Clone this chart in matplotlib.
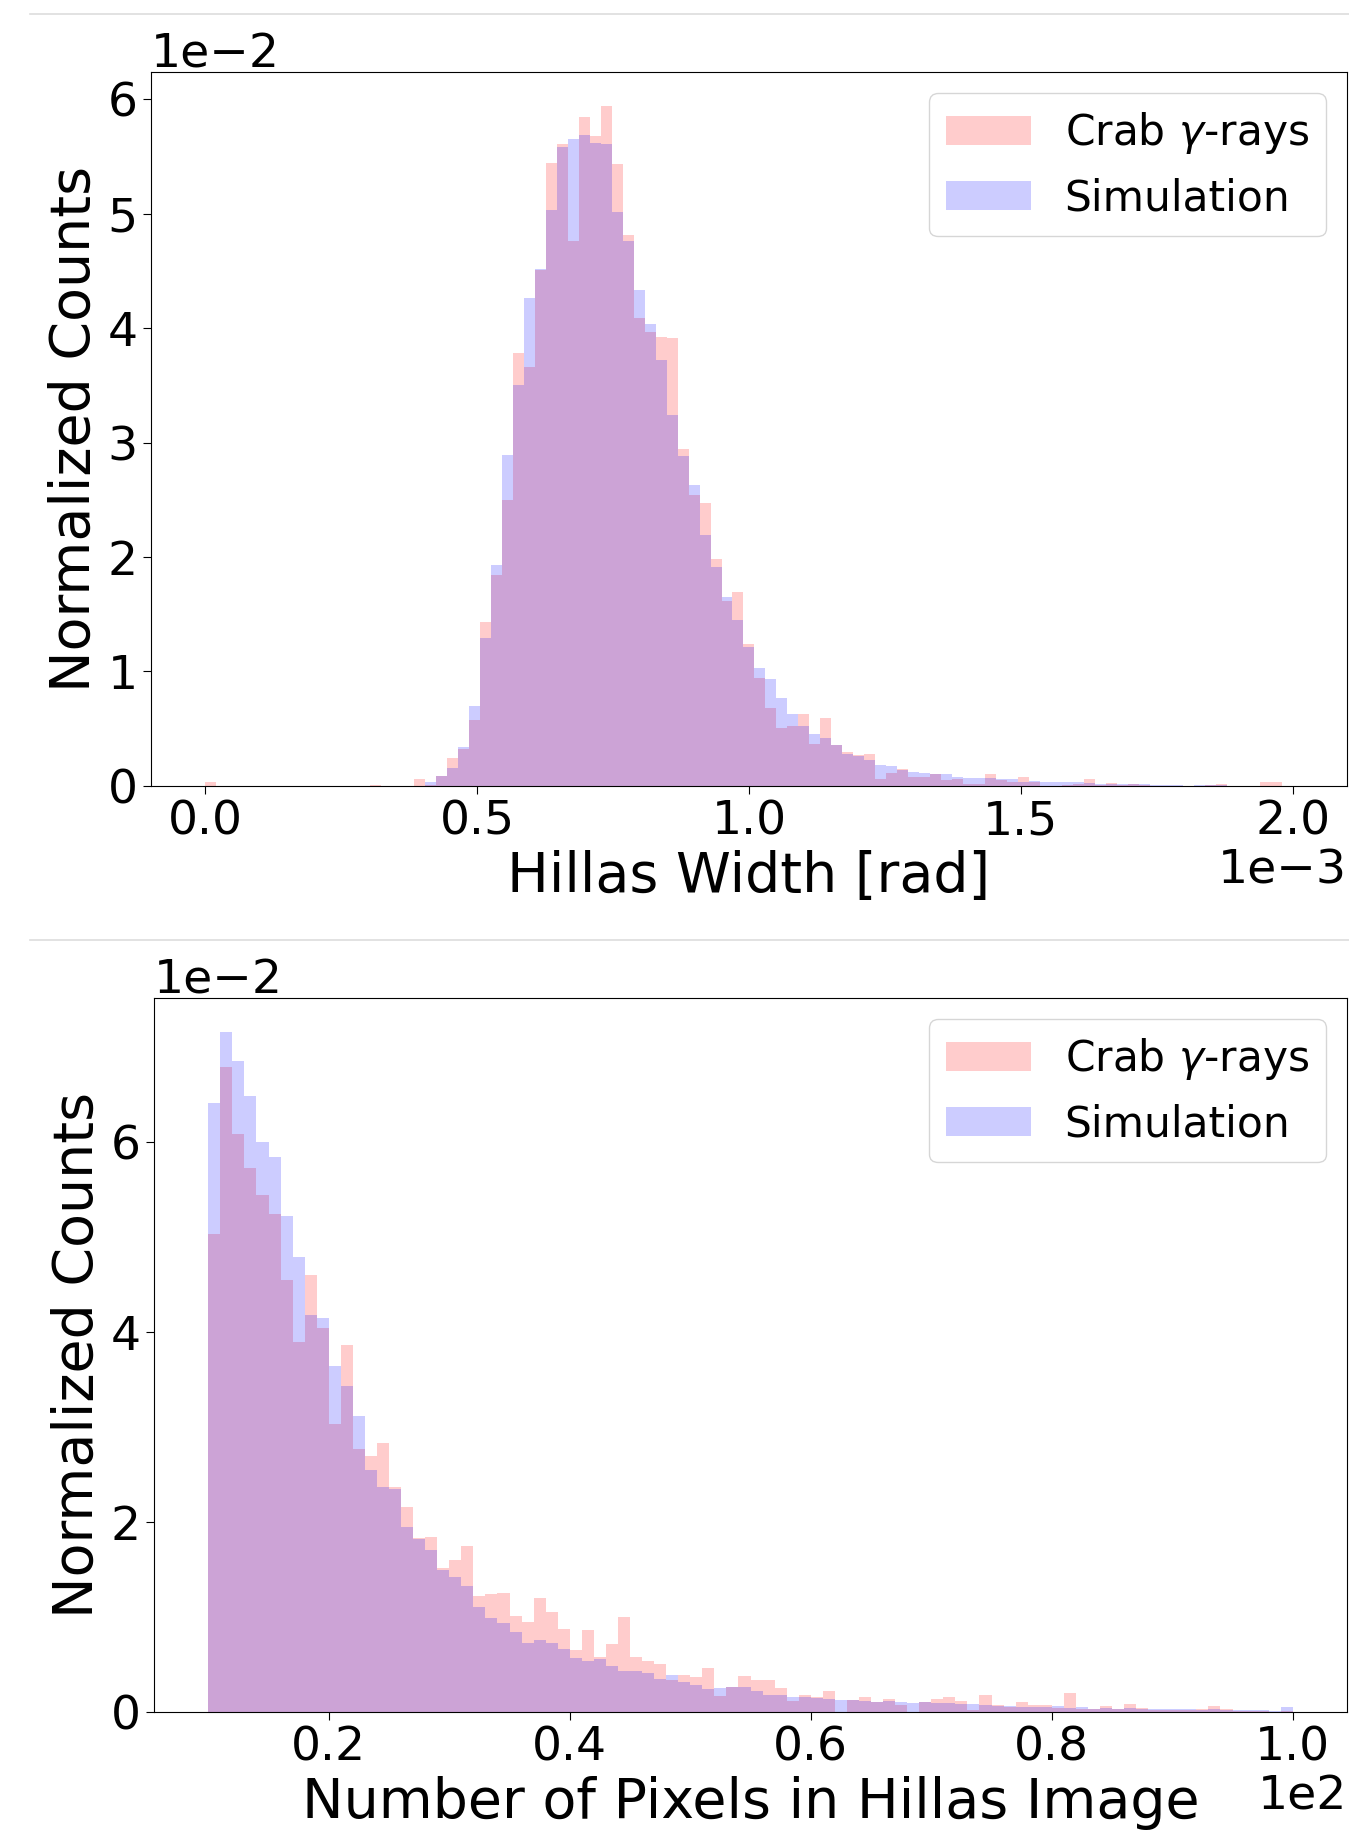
import numpy as np
import matplotlib
matplotlib.use('Agg')
from matplotlib import pyplot as plt
from matplotlib.lines import Line2D

# Hillas width histogram: 99 bins between 0 and 2e-3 rad, heights in units of 1e-2
width_edges = np.linspace(0, 2e-3, 100)
width_crab = [0.03, 0, 0, 0, 0, 0, 0, 0, 0, 0,
              0, 0, 0, 0, 0, 0.01, 0, 0, 0, 0.06,
              0.01, 0.09, 0.24, 0.32, 0.58, 1.43, 1.84, 2.50, 3.78, 3.66,
              4.51, 5.44, 5.61, 4.76, 5.84, 5.68, 5.94, 5.43, 4.81, 4.09,
              3.97, 3.92, 3.91, 2.94, 2.54, 2.47, 1.98, 1.62, 1.69, 1.24,
              0.94, 0.68, 0.51, 0.52, 0.63, 0.37, 0.59, 0.36, 0.30, 0.27,
              0.28, 0.06, 0.11, 0.15, 0.08, 0.08, 0.10, 0.05, 0.06, 0.02,
              0.02, 0.10, 0.055, 0.035, 0.08, 0.035, 0, 0, 0.01, 0.02,
              0.058, 0.01, 0.023, 0.01, 0.015, 0.01, 0, 0, 0, 0,
              0, 0.01, 0.017, 0, 0, 0, 0.03, 0.03, 0]
width_sim = [0, 0, 0, 0, 0, 0, 0, 0, 0, 0,
             0, 0, 0, 0, 0, 0, 0, 0, 0, 0,
             0.03, 0.09, 0.16, 0.34, 0.70, 1.29, 1.93, 2.89, 3.50, 4.26,
             4.52, 5.03, 5.58, 5.65, 5.69, 5.62, 5.61, 5.01, 4.76, 4.33,
             4.04, 3.72, 3.24, 2.88, 2.63, 2.19, 1.91, 1.65, 1.45, 1.21,
             1.03, 0.93, 0.77, 0.63, 0.52, 0.45, 0.42, 0.36, 0.28, 0.26,
             0.23, 0.18, 0.17, 0.14, 0.12, 0.11, 0.10, 0.10, 0.08, 0.07,
             0.07, 0.07, 0.06, 0.06, 0.035, 0.047, 0.035, 0.035, 0.035, 0.035,
             0.026, 0.02, 0.02, 0.017, 0.015, 0.015, 0.01, 0.01, 0.01, 0.003,
             0.006, 0.004, 0.004, 0, 0, 0, 0, 0, 0]

# number of pixels histogram: 90 bins of width 1 between 10 and 100
npix_edges = np.arange(10, 101)
npix_crab = [5.03, 6.79, 6.09, 5.73, 5.44, 5.24, 4.55, 3.90, 4.60, 4.04,
             3.03, 3.86, 2.77, 2.69, 2.83, 2.37, 2.16, 1.83, 1.84, 1.52,
             1.60, 1.75, 1.22, 1.24, 1.25, 1.01, 0.95, 1.20, 1.05, 0.87,
             0.65, 0.86, 0.58, 0.72, 1.00, 0.58, 0.54, 0.50, 0.34, 0.39,
             0.37, 0.46, 0.17, 0.26, 0.38, 0.34, 0.34, 0.25, 0.12, 0.18,
             0.16, 0.22, 0.0, 0.13, 0.16, 0.10, 0.14, 0.07, 0.0, 0.10,
             0.14, 0.16, 0.11, 0.02, 0.18, 0.07, 0.056, 0.10, 0.07, 0.07,
             0.04, 0.20, 0.03, 0.03, 0.06, 0.03, 0.08, 0.04, 0.015, 0.02,
             0.017, 0.017, 0.035, 0.067, 0.03, 0.007, 0.01, 0.013, 0.004, 0.01]
npix_sim = [6.41, 7.16, 6.86, 6.49, 6.00, 5.84, 5.22, 4.79, 4.18, 4.15,
            3.64, 3.43, 3.12, 2.55, 2.37, 2.35, 1.95, 1.82, 1.70, 1.49,
            1.42, 1.33, 1.10, 0.99, 0.94, 0.84, 0.73, 0.76, 0.73, 0.66,
            0.57, 0.54, 0.56, 0.48, 0.43, 0.43, 0.41, 0.35, 0.39, 0.32,
            0.28, 0.24, 0.25, 0.26, 0.26, 0.22, 0.18, 0.18, 0.16, 0.16,
            0.15, 0.14, 0.13, 0.13, 0.12, 0.10, 0.11, 0.10, 0.09, 0.10,
            0.09, 0.09, 0.08, 0.08, 0.07, 0.06, 0.06, 0.056, 0.056, 0.056,
            0.06, 0.04, 0.05, 0.035, 0.045, 0.035, 0.045, 0.03, 0.03, 0.03,
            0.03, 0.03, 0.025, 0.03, 0.02, 0.015, 0.018, 0.018, 0.014, 0.05]

labels = [r'Crab $\gamma$-rays', 'Simulation']
xlabels = ['Hillas Width [rad]', 'Number of Pixels in Hillas Image']

fig = plt.figure(figsize=(13.49, 18.38), dpi=100)
ax1 = fig.add_axes([0.1119, 0.5724, 0.8866, 0.3884])
ax2 = fig.add_axes([0.1142, 0.0686, 0.8843, 0.3884])

for ax, edges, crab, sim, xl in [(ax1, width_edges, width_crab, width_sim, xlabels[0]),
                                 (ax2, npix_edges, npix_crab, npix_sim, xlabels[1])]:
    centers = (edges[:-1] + edges[1:]) / 2
    ax.hist(centers, bins=edges, weights=np.array(crab) * 1e-2,
            color='red', alpha=0.2, label=labels[0])
    ax.hist(centers, bins=edges, weights=np.array(sim) * 1e-2,
            color='blue', alpha=0.2, label=labels[1])
    ax.ticklabel_format(style='sci', axis='both', scilimits=(0, 0))
    ax.tick_params(labelsize=34, length=6)
    ax.xaxis.get_offset_text().set_fontsize(34)
    ax.yaxis.get_offset_text().set_fontsize(34)
    ax.set_xlabel(xl, fontsize=40)
    ax.set_ylabel('Normalized Counts', fontsize=40)
    ax.legend(loc='upper right', fontsize=30.5)

# thin separators between the two panels
for y in [1 - 14 / 1838, 1 - 940 / 1838]:
    fig.add_artist(Line2D([0.022, 1.0], [y, y], color='#dddddd', lw=1.2))

fig.savefig('out.png', dpi=100)
